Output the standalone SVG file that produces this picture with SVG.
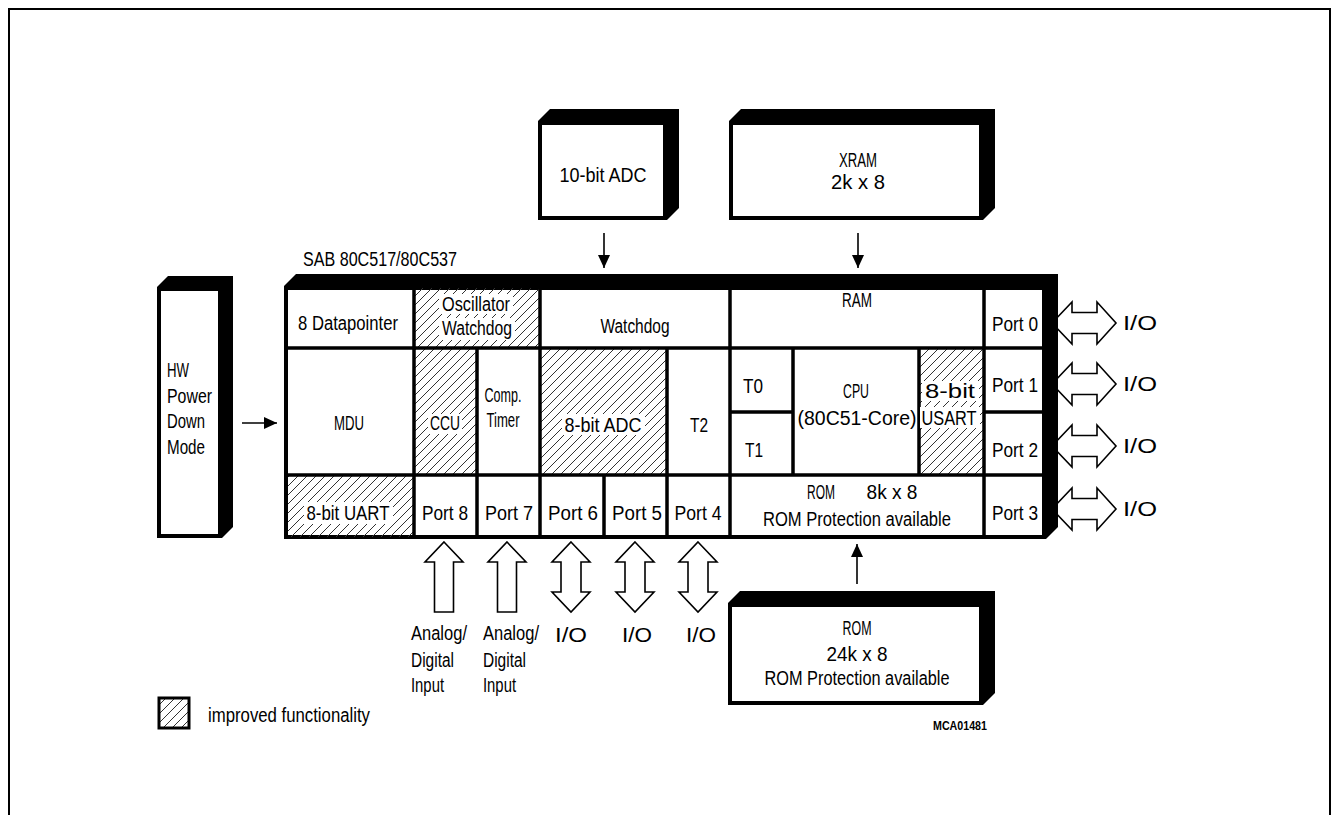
<svg xmlns="http://www.w3.org/2000/svg" width="1333" height="815" viewBox="0 0 1333 815">
<style>
.t{font-family:"Liberation Sans",Arial,sans-serif;font-size:20px;fill:#000}
.m{text-anchor:middle}
.b{fill:#000}
.f{fill:#fff;stroke:#000;stroke-width:4}
.ln{stroke:#000;stroke-width:3.5;fill:none}
.thin{stroke:#000;stroke-width:1.6;fill:none}
.ha{fill:#fff;stroke:#000;stroke-width:1.6;stroke-linejoin:miter}
.hat{fill:url(#hatch)}
.wb{fill:#fff}
</style>
<defs>
<pattern id="hatch" patternUnits="userSpaceOnUse" width="9" height="9">
<path d="M-1,1 l2,-2 M0,9 l9,-9 M8,10 l2,-2" stroke="#333" stroke-width="1"/>
</pattern>
<marker id="ah" markerWidth="14" markerHeight="12" refX="13" refY="6" orient="auto" markerUnits="userSpaceOnUse">
<path d="M0,0 L13,6 L0,12 Z" fill="#000"/>
</marker>
</defs>
<rect width="1333" height="815" fill="#fff"/>
<path d="M9,816 V9 H1330 V816" fill="none" stroke="#000" stroke-width="2"/>

<g id="connectors">
<line class="thin" x1="604" y1="233" x2="604" y2="268" marker-end="url(#ah)"/>
<line class="thin" x1="858" y1="233" x2="858" y2="268" marker-end="url(#ah)"/>
<line class="thin" x1="857" y1="584" x2="857" y2="544" marker-end="url(#ah)"/>
<line class="thin" x1="242" y1="423" x2="277" y2="423" marker-end="url(#ah)"/>
<polygon class="ha" points="444,542 463,562 453.5,562 453.5,612 434.5,612 434.5,562 425,562"/>
<polygon class="ha" points="507,542 526,562 516.5,562 516.5,612 497.5,612 497.5,562 488,562"/>
<polygon class="ha" points="571,542 590,562 581,562 581,592 590,592 571,612 552,592 561,592 561,562 552,562"/>
<polygon class="ha" points="635,542 654,562 645,562 645,592 654,592 635,612 616,592 625,592 625,562 616,562"/>
<polygon class="ha" points="698,542 717,562 708,562 708,592 717,592 698,612 679,592 688,592 688,562 679,562"/>
<polygon class="ha" points="1052,323 1072,302 1072,312.5 1097,312.5 1097,302 1116,323 1097,344 1097,333.5 1072,333.5 1072,344"/>
<polygon class="ha" points="1052,384 1072,363 1072,373.5 1097,373.5 1097,363 1116,384 1097,405 1097,394.5 1072,394.5 1072,405"/>
<polygon class="ha" points="1052,446 1072,425 1072,435.5 1097,435.5 1097,425 1116,446 1097,467 1097,456.5 1072,456.5 1072,467"/>
<polygon class="ha" points="1052,509 1072,488 1072,498.5 1097,498.5 1097,488 1116,509 1097,530 1097,519.5 1072,519.5 1072,530"/>
</g>

<g id="adc10">
<polygon class="b" points="538,121 550,109 679,109 679,208 667,220 538,220"/>
<rect class="f" x="540" y="123" width="125" height="95"/>
<text class="t m" x="603" y="182" textLength="87" lengthAdjust="spacingAndGlyphs">10-bit ADC</text>
</g>

<g id="xram">
<polygon class="b" points="729,121 741,109 995,109 995,208 983,220 729,220"/>
<rect class="f" x="731" y="123" width="250" height="95"/>
<text class="t m" x="858" y="167" textLength="38" lengthAdjust="spacingAndGlyphs">XRAM</text>
<text class="t m" x="858" y="189" textLength="54" lengthAdjust="spacingAndGlyphs">2k x 8</text>
</g>

<g id="hw">
<polygon class="b" points="157,287 168,276 233,276 233,527 222,538 157,538"/>
<rect class="f" x="159" y="289" width="61" height="247"/>
<text class="t" x="167" y="377" textLength="22" lengthAdjust="spacingAndGlyphs">HW</text>
<text class="t" x="167" y="403" textLength="45" lengthAdjust="spacingAndGlyphs">Power</text>
<text class="t" x="167" y="428" textLength="38" lengthAdjust="spacingAndGlyphs">Down</text>
<text class="t" x="167" y="454" textLength="38" lengthAdjust="spacingAndGlyphs">Mode</text>
</g>

<text id="title" class="t" x="303" y="266" textLength="154" lengthAdjust="spacingAndGlyphs">SAB 80C517/80C537</text>

<g id="main">
<polygon class="b" points="284,286 296,274 1058,274 1058,527 1046,539 284,539"/>
<rect class="f" x="286" y="288" width="758" height="249"/>
<rect class="hat" x="414" y="288" width="126" height="60"/>
<rect class="hat" x="414" y="348" width="63" height="127"/>
<rect class="hat" x="540" y="348" width="127" height="127"/>
<rect class="hat" x="288" y="475" width="126" height="62"/>
<rect class="hat" x="919" y="348" width="65" height="127"/>
<path class="ln" d="M284,348 H1046 M284,475 H1046 M730,412 H793 M984,412 H1046 M414,286 V539 M477,348 V539 M540,286 V539 M604,475 V539 M667,348 V539 M730,286 V539 M793,348 V475 M919,348 V475 M984,286 V539"/>
</g>

<g id="datapointer"><text class="t m" x="348" y="330" textLength="100" lengthAdjust="spacingAndGlyphs">8 Datapointer</text></g>
<g id="oscwd">
<rect class="wb" x="439" y="294" width="74" height="20"/>
<rect class="wb" x="439" y="318" width="76" height="22"/>
<text class="t m" x="476" y="311" textLength="68" lengthAdjust="spacingAndGlyphs">Oscillator</text>
<text class="t m" x="477" y="335" textLength="70" lengthAdjust="spacingAndGlyphs">Watchdog</text>
</g>
<g id="watchdog"><text class="t m" x="635" y="333" textLength="69" lengthAdjust="spacingAndGlyphs">Watchdog</text></g>
<g id="ram"><text class="t m" x="857" y="307" textLength="30" lengthAdjust="spacingAndGlyphs">RAM</text></g>
<g id="port0"><text class="t m" x="1015" y="331" textLength="46" lengthAdjust="spacingAndGlyphs">Port 0</text></g>
<g id="mdu"><text class="t m" x="349" y="430" textLength="30" lengthAdjust="spacingAndGlyphs">MDU</text></g>
<g id="ccu">
<rect class="wb" x="428" y="414" width="34" height="20"/>
<text class="t m" x="445" y="430" textLength="30" lengthAdjust="spacingAndGlyphs">CCU</text>
</g>
<g id="comptimer">
<text class="t m" x="503" y="402" textLength="37" lengthAdjust="spacingAndGlyphs">Comp.</text>
<text class="t m" x="503" y="427" textLength="33" lengthAdjust="spacingAndGlyphs">Timer</text>
</g>
<g id="adc8">
<rect class="wb" x="562" y="414" width="83" height="21"/>
<text class="t m" x="603" y="432" textLength="77" lengthAdjust="spacingAndGlyphs">8-bit ADC</text>
</g>
<g id="t2"><text class="t m" x="699" y="432" textLength="18" lengthAdjust="spacingAndGlyphs">T2</text></g>
<g id="t0"><text class="t m" x="753" y="393" textLength="20" lengthAdjust="spacingAndGlyphs">T0</text></g>
<g id="t1"><text class="t m" x="754" y="457" textLength="18" lengthAdjust="spacingAndGlyphs">T1</text></g>
<g id="cpu">
<text class="t m" x="856" y="398" textLength="26" lengthAdjust="spacingAndGlyphs">CPU</text>
<text class="t m" x="857" y="425" textLength="119" lengthAdjust="spacingAndGlyphs">(80C51-Core)</text>
</g>
<g id="usart">
<rect class="wb" x="922" y="381" width="57" height="20"/>
<rect class="wb" x="920" y="407" width="60" height="21"/>
<text class="t m" x="950" y="398" textLength="50" lengthAdjust="spacingAndGlyphs">8-bit</text>
<text class="t m" x="949" y="425" textLength="55" lengthAdjust="spacingAndGlyphs">USART</text>
</g>
<g id="port1"><text class="t m" x="1015" y="392" textLength="46" lengthAdjust="spacingAndGlyphs">Port 1</text></g>
<g id="port2"><text class="t m" x="1015" y="457" textLength="46" lengthAdjust="spacingAndGlyphs">Port 2</text></g>
<g id="port3"><text class="t m" x="1015" y="520" textLength="46" lengthAdjust="spacingAndGlyphs">Port 3</text></g>
<g id="uart">
<rect class="wb" x="304" y="502" width="89" height="22"/>
<text class="t m" x="348" y="520" textLength="83" lengthAdjust="spacingAndGlyphs">8-bit UART</text>
</g>
<g id="port8"><text class="t m" x="445" y="520" textLength="46" lengthAdjust="spacingAndGlyphs">Port 8</text></g>
<g id="port7"><text class="t m" x="509" y="520" textLength="48" lengthAdjust="spacingAndGlyphs">Port 7</text></g>
<g id="port6"><text class="t m" x="573" y="520" textLength="50" lengthAdjust="spacingAndGlyphs">Port 6</text></g>
<g id="port5"><text class="t m" x="637" y="520" textLength="50" lengthAdjust="spacingAndGlyphs">Port 5</text></g>
<g id="port4"><text class="t m" x="698" y="520" textLength="47" lengthAdjust="spacingAndGlyphs">Port 4</text></g>
<g id="rom8k">
<text class="t m" x="821" y="499" textLength="28" lengthAdjust="spacingAndGlyphs">ROM</text>
<text class="t m" x="892" y="499" textLength="51" lengthAdjust="spacingAndGlyphs">8k x 8</text>
<text class="t m" x="857" y="526" textLength="188" lengthAdjust="spacingAndGlyphs">ROM Protection available</text>
</g>

<g id="rom24k">
<polygon class="b" points="728,603 740,591 995,591 995,693 983,705 728,705"/>
<rect class="f" x="730" y="605" width="251" height="98"/>
<text class="t m" x="857" y="635" textLength="29" lengthAdjust="spacingAndGlyphs">ROM</text>
<text class="t m" x="857" y="661" textLength="61" lengthAdjust="spacingAndGlyphs">24k x 8</text>
<text class="t m" x="857" y="685" textLength="185" lengthAdjust="spacingAndGlyphs">ROM Protection available</text>
</g>

<g id="labels">
<text class="t" x="411" y="640" textLength="56" lengthAdjust="spacingAndGlyphs">Analog/</text>
<text class="t" x="411" y="667" textLength="43" lengthAdjust="spacingAndGlyphs">Digital</text>
<text class="t" x="411" y="692" textLength="33" lengthAdjust="spacingAndGlyphs">Input</text>
<text class="t" x="483" y="640" textLength="56" lengthAdjust="spacingAndGlyphs">Analog/</text>
<text class="t" x="483" y="667" textLength="43" lengthAdjust="spacingAndGlyphs">Digital</text>
<text class="t" x="483" y="692" textLength="33" lengthAdjust="spacingAndGlyphs">Input</text>
<text class="t m" x="571" y="642" textLength="32" lengthAdjust="spacingAndGlyphs">I/O</text>
<text class="t m" x="637" y="642" textLength="30" lengthAdjust="spacingAndGlyphs">I/O</text>
<text class="t m" x="701" y="642" textLength="30" lengthAdjust="spacingAndGlyphs">I/O</text>
<text class="t" x="1123" y="330" textLength="34" lengthAdjust="spacingAndGlyphs">I/O</text>
<text class="t" x="1123" y="391" textLength="34" lengthAdjust="spacingAndGlyphs">I/O</text>
<text class="t" x="1123" y="453" textLength="34" lengthAdjust="spacingAndGlyphs">I/O</text>
<text class="t" x="1123" y="516" textLength="34" lengthAdjust="spacingAndGlyphs">I/O</text>
<text x="987" y="730" text-anchor="end" style="font-family:'Liberation Sans',Arial,sans-serif;font-size:13px;font-weight:bold" textLength="54" lengthAdjust="spacingAndGlyphs">MCA01481</text>
</g>

<g id="legend">
<rect x="159" y="698" width="30" height="30" fill="url(#hatch)" stroke="#000" stroke-width="3"/>
<text class="t" x="208" y="722" textLength="162" lengthAdjust="spacingAndGlyphs">improved functionality</text>
</g>
</svg>
